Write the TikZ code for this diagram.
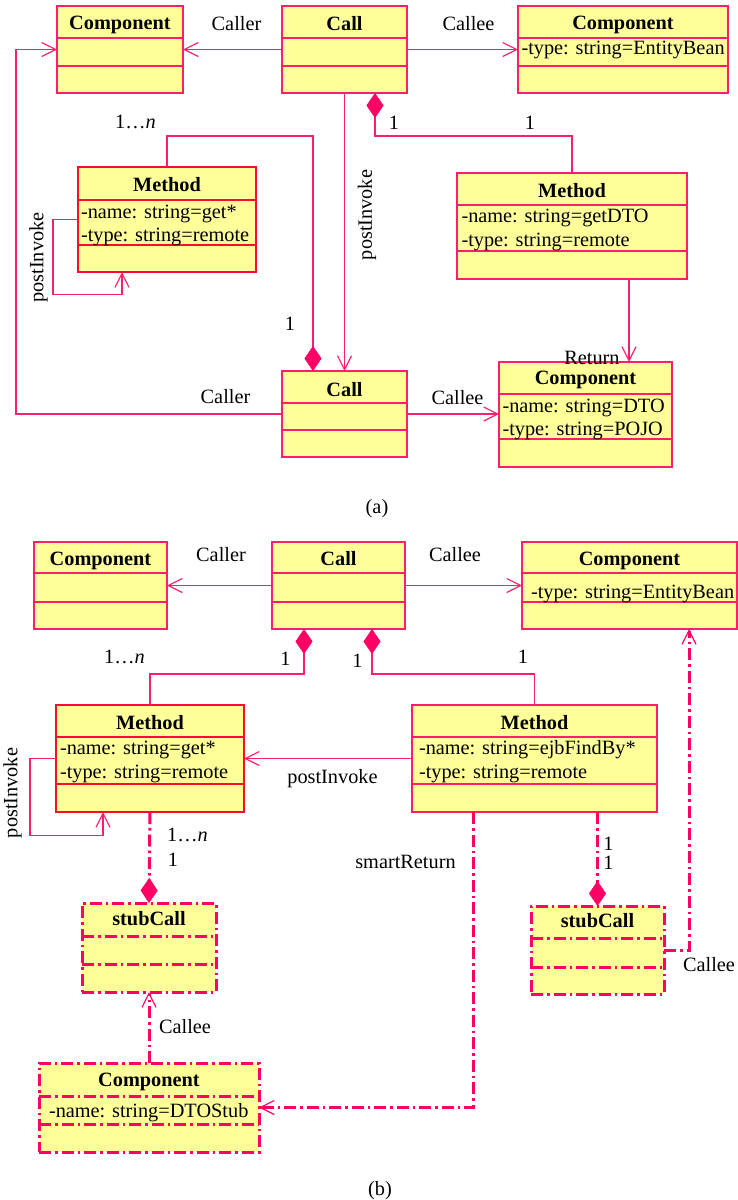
\documentclass[tikz,border=0pt]{standalone}
\usepackage{fontspec}
\setmainfont{Liberation Serif}
\usetikzlibrary{arrows.meta,calc}
\definecolor{boxfill}{RGB}{255,255,153}
\definecolor{pinkline}{RGB}{255,30,110}
\definecolor{redline}{RGB}{255,10,50}
\definecolor{dia}{RGB}{255,0,100}
\tikzset{
  every node/.style={font=\fontsize{20.3}{23}\selectfont, inner sep=0pt, outer sep=0pt},
  box/.style={draw=pinkline, fill=boxfill, line width=1.5pt, anchor=north west},
  redbox/.style={box, draw=redline},
  stubbox/.style={box, draw=dia, line width=3pt, dash pattern=on 12pt off 4pt on 2.5pt off 4pt},
  div/.style={draw=pinkline, line width=1.5pt},
  reddiv/.style={draw=redline, line width=1.5pt},
  stubdiv/.style={draw=dia, line width=3pt, dash pattern=on 12pt off 4pt on 2.5pt off 4pt},
  conn/.style={draw=pinkline, line width=1.2pt},
  dconn/.style={draw=dia, line width=3pt, dash pattern=on 12pt off 4pt on 2.5pt off 4pt},
  open/.style={-{Straight Barb[length=14pt,width=14pt,line width=1.2pt]}},
  comp/.style={-{Diamond[length=25pt,width=17pt,fill=dia,color=dia,line width=0.5pt]}},
  compstart/.style={{Diamond[length=25pt,width=17pt,fill=dia,color=dia,line width=0.5pt]}-},
  title/.style={anchor=base, font=\fontsize{20.3}{23}\selectfont\bfseries},
  attr/.style={anchor=base west},
  lbl/.style={anchor=base},
}
% #1 name, #2 box style, #3 divider style, #4 x1, #5 y1, #6 x2, #7 y2, #8 d1, #9 d2
\newcommand{\umlbox}[9]{%
  \node[#2, minimum width={(#6-#4)*1pt}, minimum height={(#7-#5)*1pt}] (#1) at (#4,#5) {};
  \draw[#3] (#4,#8) -- (#6,#8);
  \draw[#3] (#4,#9) -- (#6,#9);
}
\begin{document}
\begin{tikzpicture}[x=1pt, y=-1pt]
\useasboundingbox (0,0) rectangle (738,1200);

% ================= (a) =================
\umlbox{cmpA1}{box}{div}{57}{6}{183}{93}{38}{66}
\umlbox{callA}{box}{div}{282}{6}{407}{93}{38}{66}
\umlbox{cmpA2}{box}{div}{518}{6}{728}{93}{38}{66}
\umlbox{methA1}{redbox}{reddiv}{78}{167}{256}{272}{200}{245}
\umlbox{methA2}{box}{div}{457}{173}{687}{279}{205}{251}
\umlbox{callA2}{box}{div}{282}{371}{407}{457}{403}{430}
\umlbox{cmpA3}{box}{div}{499}{362}{672}{467}{394}{439}

\node[title] (tA1) at (120,29.5) {Component};
\node[title] (tA2) at (344.5,30.5) {Call};
\node[title] (tA3) at (623,29.5) {Component};
\node[title] (tA4) at (167,191.5) {Method};
\node[title] (tA5) at (572,197) {Method};
\node[title] (tA6) at (344.5,396.5) {Call};
\node[title] (tA7) at (585.5,384) {Component};

\node[attr] (aA1) at (521.5,54.5) {-type: string=EntityBean};
\node[attr] (aA2) at (81,218) {-name: string=get*};
\node[attr] (aA3) at (81,241) {-type: string=remote};
\node[attr] (aA4) at (461.5,222.5) {-name: string=getDTO};
\node[attr] (aA5) at (461.5,246) {-type: string=remote};
\node[attr] (aA6) at (502.5,412.5) {-name: string=DTO};
\node[attr] (aA7) at (502.5,435.5) {-type: string=POJO};

% connectors (a)
\draw[conn, open] (callA.west) -- (cmpA1.east);
\draw[conn, open] (callA.east) -- (cmpA2.west);
\draw[conn, open] (callA2.west) -| ($(cmpA1.west)+(-41,0)$) -- (cmpA1.west);
\draw[conn, open] (callA2.east) -- (callA2.east -| cmpA3.west);
\draw[conn, open] (callA.south) -- (callA2.north);
\draw[conn, compstart] ($(callA.south east)+(-32,0)$) -- ++(0,43) -| (methA2.north);
\draw[conn, comp] (methA1.north) -- ++(0,-31) -| ($(callA2.north west)+(31,0)$);
\draw[conn, open] (methA1.west) -| ++(-25,75) -| ($(methA1.south west)+(44,0)$);
\draw[conn, open] ($(methA2.south west)+(172,0)$) -- ($(cmpA3.north west)+(130,0)$);

% labels (a)
\node[lbl] (lA1) at (236.5,30.5) {Caller};
\node[lbl] (lA2) at (468.5,30.5) {Callee};
\node[lbl] (lA3) at (135.5,128) {1…\textit{n}};
\node[lbl] (lA4) at (394,129) {1};
\node[lbl] (lA5) at (530,129) {1};
\node[rotate=90] (lA6) at (38.5,257.5) {postInvoke};
\node[rotate=90] (lA7) at (367,215) {postInvoke};
\node[lbl] (lA8) at (290,330) {1};
\node[lbl] (lA9) at (225.5,403) {Caller};
\node[lbl] (lA10) at (457.5,404) {Callee};
\node[lbl] (lA11) at (592,364.5) {Return};
\node[lbl] (lA12) at (377,513) {(a)};

% ================= (b) =================
\umlbox{cmpB1}{box}{div}{34}{542}{167}{629}{573}{602}
\umlbox{callB}{box}{div}{272}{542}{405}{629}{573}{602}
\umlbox{cmpB2}{box}{div}{522}{542}{737}{629}{573}{602}
\umlbox{methB1}{redbox}{reddiv}{56}{705}{244}{812}{737}{784}
\umlbox{methB2}{box}{div}{412}{705}{657}{812}{737}{784}
\umlbox{stubB1}{stubbox}{stubdiv}{82}{903}{216}{992}{936}{964}
\umlbox{stubB2}{stubbox}{stubdiv}{531}{906}{664}{994}{938}{967}
\umlbox{cmpB3}{stubbox}{stubdiv}{39}{1063}{259}{1152}{1096}{1124}

\node[title] (tB1) at (100.5,565) {Component};
\node[title] (tB2) at (338.5,565) {Call};
\node[title] (tB3) at (629.5,565) {Component};
\node[title] (tB4) at (150,729) {Method};
\node[title] (tB5) at (534.5,729) {Method};
\node[title] (tB6) at (149,925) {stubCall};
\node[title] (tB7) at (597.5,927) {stubCall};
\node[title] (tB8) at (149,1086) {Component};

\node[attr] (aB1) at (531,598) {-type: string=EntityBean};
\node[attr] (aB2) at (60,754.5) {-name: string=get*};
\node[attr] (aB3) at (60,778.5) {-type: string=remote};
\node[attr] (aB4) at (419,754.5) {-name: string=ejbFindBy*};
\node[attr] (aB5) at (419,778.5) {-type: string=remote};
\node[attr] (aB6) at (49,1117) {-name: string=DTOStub};

% connectors (b)
\draw[conn, open] (callB.west) -- (cmpB1.east);
\draw[conn, open] (callB.east) -- (cmpB2.west);
\draw[conn, compstart] ($(callB.south west)+(32,0)$) -- ++(0,45) -| (methB1.north);
\draw[conn, compstart] ($(callB.south east)+(-33,0)$) -- ++(0,45) -| (methB2.north);
\draw[conn, open] (methB2.west) -- (methB2.west -| methB1.east);
\draw[conn, open] (methB1.west) -| ++(-26,77) -| ($(methB1.south west)+(47,0)$);
\draw[dconn, comp] (methB1.south) -- (stubB1.north);
\draw[dconn, open] (cmpB3.north) -- (stubB1.south);
\draw[dconn, open] ($(methB2.south west)+(61,0)$) |- (cmpB3.east);
\draw[dconn, comp] (stubB2.north |- methB2.south) -- (stubB2.north);
\draw[dconn, open] (stubB2.east) -| ($(cmpB2.south west)+(167,0)$);

% labels (b)
\node[lbl] (lB1) at (221,561.5) {Caller};
\node[lbl] (lB2) at (455,561.5) {Callee};
\node[lbl] (lB3) at (124.5,663.5) {1…\textit{n}};
\node[lbl] (lB4) at (285.5,665.5) {1};
\node[lbl] (lB5) at (357.5,667) {1};
\node[lbl] (lB6) at (523,663.5) {1};
\node[lbl] (lB7) at (332.5,783) {postInvoke};
\node[rotate=90] (lB8) at (12.5,793) {postInvoke};
\node[lbl] (lB9) at (405.5,868) {smartReturn};
\node[lbl] (lB10) at (187.5,841.5) {1…\textit{n}};
\node[lbl] (lB11) at (173,866.5) {1};
\node[lbl] (lB12) at (185,1033.5) {Callee};
\node[lbl] (lB13) at (608.5,850) {1};
\node[lbl] (lB14) at (608.5,869.5) {1};
\node[lbl] (lB15) at (709,971.5) {Callee};
\node[lbl] (lB16) at (380,1195) {(b)};
\end{tikzpicture}
\end{document}
